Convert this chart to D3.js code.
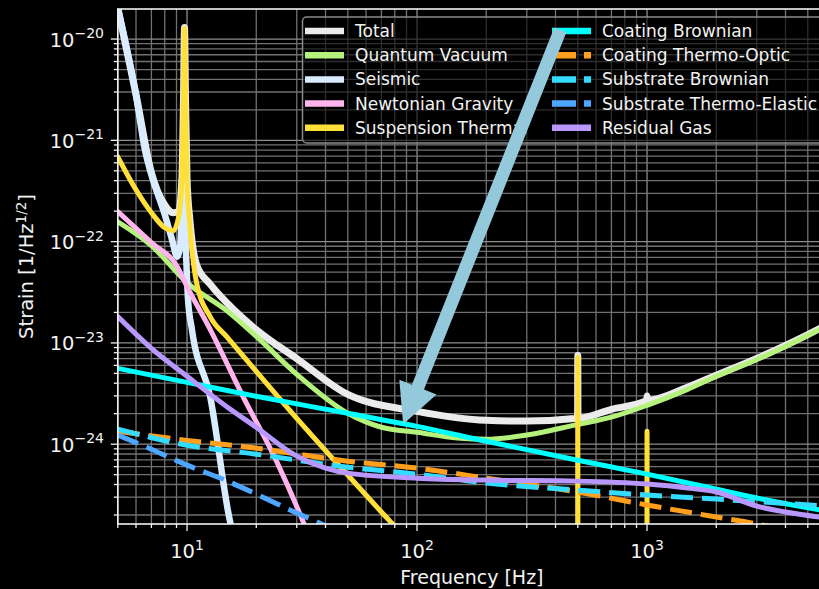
<!DOCTYPE html>
<html>
<head>
<meta charset="utf-8">
<script src="https://cdn.jsdelivr.net/npm/d3@7"></script>
<style>
  html, body { margin: 0; padding: 0; background: #000; }
  svg { display: block; font-family: "DejaVu Sans", sans-serif; }
</style>
</head>
<body>
<svg id="chart" width="819" height="589"></svg>
<script>
// noise budget curves, strain in 1/sqrt(Hz)
var totalFreq = [5, 6, 7, 8, 8.7, 9.2, 9.5, 9.65, 9.75, 9.85, 10, 10.3, 11, 12.6, 15, 20, 30, 50, 100, 200, 300, 499, 500, 501, 700, 998, 1000, 1002, 1500, 2000, 3000, 4000, 5000, 6000];
var totalStrain = [2.02e-20, 2.83e-21, 4.8e-22, 2.3e-22, 1.93e-22, 1.98e-22, 4.2e-22, 2.55e-21, 1.3e-20, 2.55e-21, 4.2e-22, 1.6e-22, 5.93e-23, 3.8e-23, 2.45e-23, 1.35e-23, 7.0e-24, 3.1e-24, 2.11e-24, 1.72e-24, 1.69e-24, 1.80e-24, 7.5e-24, 1.80e-24, 2.21e-24, 2.71e-24, 3.0e-24, 2.71e-24, 3.65e-24, 4.79e-24, 7.03e-24, 9.46e-24, 1.21e-23, 1.49e-23];

var quantumFreq = [5, 7, 10, 15, 20, 30, 50, 70, 100, 150, 200, 300, 500, 700, 1000, 1500, 2000, 3000, 4000, 5000, 6000];
var quantumStrain = [1.57e-22, 9.14e-23, 3.94e-23, 2.05e-23, 1.16e-23, 4.9e-24, 2.02e-24, 1.47e-24, 1.31e-24, 1.15e-24, 1.12e-24, 1.23e-24, 1.57e-24, 1.85e-24, 2.42e-24, 3.48e-24, 4.68e-24, 6.87e-24, 9.24e-24, 1.19e-23, 1.46e-23];

var seismicFreq = [5, 6, 6.56, 7, 8, 8.6, 9.05, 9.35, 9.55, 9.75, 10.1, 10.5, 12.6, 15.4, 17];
var seismicStrain = [2.02e-20, 2.81e-21, 8.05e-22, 4.57e-22, 1.85e-22, 1.05e-22, 7.11e-23, 9.33e-23, 2.77e-22, 1.65e-22, 2.69e-23, 1.36e-23, 2.97e-24, 1.71e-25, 8e-26];

var newtonianFreq = [5, 7, 9.05, 10, 12.6, 17.5, 24.6, 32, 40];
var newtonianStrain = [1.98e-22, 9.8e-23, 5.68e-23, 3.6e-23, 1.36e-23, 2.97e-24, 6.65e-25, 1.71e-25, 4.7e-26];

var suspensionFreq = [5, 6, 7, 8, 8.7, 9.2, 9.5, 9.65, 9.75, 9.85, 10, 10.3, 11, 12.6, 15, 20, 30, 50, 70, 90, 200, 499, 500, 501, 999, 1000, 1001, 6000];
var suspensionStrain = [6.87e-22, 3.25e-22, 1.93e-22, 1.37e-22, 1.28e-22, 1.76e-22, 4.08e-22, 2.51e-21, 1.28e-20, 2.51e-21, 4.08e-22, 1.37e-22, 3.94e-23, 1.82e-23, 1.13e-23, 5.24e-24, 1.80e-24, 4.95e-25, 2.14e-25, 1.16e-25, 1e-26, 1e-26, 7.2e-24, 1e-26, 1e-26, 1.34e-24, 1e-26, 1e-26];

var coatBrownFreq = [5, 10, 20, 50, 100, 200, 500, 1000, 2000, 3000, 6000];
var coatBrownStrain = [5.61e-24, 4.08e-24, 2.97e-24, 2.02e-24, 1.50e-24, 1.07e-24, 6.95e-25, 5.06e-25, 3.60e-25, 2.94e-25, 2.19e-25];

var coatTOFreq = [5, 10, 20, 50, 100, 200, 500, 1000, 2000, 3000, 6000];
var coatTOStrain = [1.34e-24, 1.09e-24, 9.14e-25, 6.80e-25, 5.81e-25, 4.62e-25, 3.37e-25, 2.51e-25, 1.91e-25, 1.63e-25, 1.16e-25];

var subBrownFreq = [5, 10, 20, 50, 100, 200, 500, 1000, 2000, 6000];
var subBrownStrain = [1.41e-24, 9.77e-25, 7.97e-25, 5.93e-25, 5.06e-25, 4.13e-25, 3.52e-25, 3.15e-25, 2.87e-25, 2.45e-25];

var subTEFreq = [5, 7, 10, 15, 20, 30, 40, 60];
var subTEStrain = [1.23e-24, 8.93e-25, 6.21e-25, 4.32e-25, 3.22e-25, 2.09e-25, 1.56e-25, 9e-26];

var gasFreq = [5, 7, 10, 15, 20, 30, 40, 50, 100, 200, 500, 1000, 1500, 2000, 3000, 4000, 6000];
var gasStrain = [1.82e-23, 8.83e-24, 4.68e-24, 2.32e-24, 1.47e-24, 7.62e-25, 5.81e-25, 5.18e-25, 4.62e-25, 4.42e-25, 4.32e-25, 4.04e-25, 3.69e-25, 3.37e-25, 2.45e-25, 2.14e-25, 1.87e-25];

var seriesNames = ['Total', 'Quantum Vacuum', 'Seismic', 'Newtonian Gravity', 'Suspension Thermal',
                   'Coating Brownian', 'Coating Thermo-Optic', 'Substrate Brownian', 'Substrate Thermo-Elastic', 'Residual Gas'];
var xTickValues = [10, 100, 1000];
var yTickValues = [1e-24, 1e-23, 1e-22, 1e-21, 1e-20];
var annotFrom = [420, 1.23e-20];
var annotTo = [87, 1.57e-24];

// styles
var seriesColors = ['#ebebeb', '#b4f27c', '#d9ebff', '#ffb4ee', '#ffe03a', '#00ffff', '#ff9f1c', '#33dcff', '#4da6ff', '#b898ff'];
var seriesWidths = [7, 5, 6.5, 5, 5, 5, 5, 5, 5, 5];
var seriesDashed = [false, false, false, false, false, false, true, true, true, false];

var series = [
    [totalFreq, totalStrain], [quantumFreq, quantumStrain], [seismicFreq, seismicStrain],
    [newtonianFreq, newtonianStrain], [suspensionFreq, suspensionStrain], [coatBrownFreq, coatBrownStrain],
    [coatTOFreq, coatTOStrain], [subBrownFreq, subBrownStrain], [subTEFreq, subTEStrain], [gasFreq, gasStrain]
].map(function (s, i) {
    return {
        name: seriesNames[i], color: seriesColors[i], width: seriesWidths[i], dashed: seriesDashed[i],
        points: s[0].map(function (f, j) { return [f, s[1][j]]; })
    };
});

var svg = d3.select('#chart');
var plotL = 117.8, plotR = 826, plotT = 9, plotB = 524;

var x = d3.scaleLog().domain([5, 6000]).range([plotL, plotR]);
var y = d3.scaleLog().domain([1.63e-25, 1.98e-20]).range([plotB, plotT]);

// minor + major tick positions
var xAll = [];
[1, 10, 100, 1000].forEach(function (d) {
    for (var k = 1; k < 10; k++) {
        var v = k * d;
        if (v >= 5 && v <= 6000) xAll.push(v);
    }
});
var yAll = [];
for (var e = -25; e <= -20; e++) {
    for (var k = 1; k < 10; k++) {
        var v = Number(k + 'e' + e);
        if (v >= 1.63e-25 && v <= 1.98e-20) yAll.push(v);
    }
}

svg.append('rect').attr('width', 819).attr('height', 589).attr('fill', '#000');

svg.append('defs').append('clipPath').attr('id', 'plotClip')
    .append('rect').attr('x', plotL).attr('y', plotT).attr('width', plotR - plotL).attr('height', plotB - plotT);

var grid = svg.append('g').attr('clip-path', 'url(#plotClip)');
grid.selectAll('.gx').data(xAll).enter().append('line')
    .attr('x1', function (d) { return x(d); }).attr('x2', function (d) { return x(d); })
    .attr('y1', plotT).attr('y2', plotB)
    .attr('stroke', function (d) { return xTickValues.indexOf(d) >= 0 ? '#8c8c8c' : '#717171'; })
    .attr('stroke-width', 1.3);
grid.selectAll('.gy').data(yAll).enter().append('line')
    .attr('y1', function (d) { return y(d); }).attr('y2', function (d) { return y(d); })
    .attr('x1', plotL).attr('x2', plotR)
    .attr('stroke', function (d) { return yTickValues.indexOf(d) >= 0 ? '#8c8c8c' : '#717171'; })
    .attr('stroke-width', 1.3);

var line = d3.line()
    .curve(d3.curveMonotoneX)
    .x(function (d) { return x(d[0]); })
    .y(function (d) { return y(d[1]); });

var curves = svg.append('g').attr('clip-path', 'url(#plotClip)');
curves.selectAll('path').data(series).enter().append('path')
    .attr('d', function (d) { return line(d.points); })
    .attr('fill', 'none')
    .attr('stroke', function (d) { return d.color; })
    .attr('stroke-width', function (d) { return d.width; })
    .attr('stroke-dasharray', function (d) { return d.dashed ? '22,9' : null; })
    .attr('stroke-linejoin', 'round')
    .attr('stroke-linecap', function (d) { return d.dashed ? 'butt' : 'round'; });

// spines
svg.append('rect').attr('x', plotL).attr('y', plotT).attr('width', plotR - plotL).attr('height', plotB - plotT)
    .attr('fill', 'none').attr('stroke', '#f2f2f2').attr('stroke-width', 1.6);

// ticks
var ticks = svg.append('g').attr('stroke', '#f2f2f2').attr('stroke-width', 1.3);
ticks.selectAll('.tx').data(xAll).enter().append('line')
    .attr('x1', function (d) { return x(d); }).attr('x2', function (d) { return x(d); })
    .attr('y1', plotB).attr('y2', function (d) { return plotB + (xTickValues.indexOf(d) >= 0 ? 7 : 4); });
ticks.selectAll('.ty').data(yAll).enter().append('line')
    .attr('y1', function (d) { return y(d); }).attr('y2', function (d) { return y(d); })
    .attr('x1', plotL).attr('x2', function (d) { return plotL - (yTickValues.indexOf(d) >= 0 ? 7 : 4); });

// tick labels (10^n)
var xl = svg.append('g').attr('fill', '#f2f2f2').attr('font-size', 19.5);
xTickValues.forEach(function (v) {
    var t = xl.append('text').attr('x', x(v)).attr('y', 558).attr('text-anchor', 'middle');
    t.append('tspan').text('10');
    t.append('tspan').attr('dy', -8.5).attr('font-size', 14).text(Math.round(Math.log10(v)));
});
var yl = svg.append('g').attr('fill', '#f2f2f2').attr('font-size', 19.5);
yTickValues.forEach(function (v) {
    var t = yl.append('text').attr('x', 104).attr('y', y(v) + 7.5).attr('text-anchor', 'end');
    t.append('tspan').text('10');
    t.append('tspan').attr('dy', -8.5).attr('font-size', 14).text('\u2212' + Math.abs(Math.round(Math.log10(v))));
});

// axis labels
svg.append('text').attr('x', (plotL + plotR) / 2).attr('y', 584).attr('text-anchor', 'middle')
    .attr('fill', '#f2f2f2').attr('font-size', 19).text('Frequency [Hz]');
var ylab = svg.append('text').attr('transform', 'translate(33,' + ((plotT + plotB) / 2) + ') rotate(-90)')
    .attr('text-anchor', 'middle').attr('fill', '#f2f2f2').attr('font-size', 19.5);
ylab.append('tspan').text('Strain [1/Hz');
ylab.append('tspan').attr('dy', -7.5).attr('font-size', 13.5).text('1/2');
ylab.append('tspan').attr('dy', 7.5).text(']');

// legend
var legend = svg.append('g');
legend.append('rect').attr('x', 302.5).attr('y', 17).attr('width', 540).attr('height', 126).attr('rx', 4)
    .attr('fill', '#000').attr('fill-opacity', 0.6).attr('stroke', '#8a8a8a').attr('stroke-width', 1.5);
series.forEach(function (s, i) {
    var col = i < 5 ? 0 : 1;
    var row = i % 5;
    var lx = col === 0 ? 305 : 552;
    var ly = 31 + row * 24.2;
    legend.append('line').attr('x1', lx).attr('x2', lx + 39).attr('y1', ly).attr('y2', ly)
        .attr('stroke', s.color).attr('stroke-width', 6.5)
        .attr('stroke-dasharray', s.dashed ? '24,8' : null);
    legend.append('text').attr('x', lx + 50).attr('y', ly + 6).attr('fill', '#f2f2f2')
        .attr('font-size', 17).text(s.name);
});

// annotation arrow, ends given in data coordinates
var ax0 = x(annotFrom[0]), ay0 = y(annotFrom[1]);
var ax1 = x(annotTo[0]), ay1 = y(annotTo[1]);
var len = Math.hypot(ax1 - ax0, ay1 - ay0);
var ux = (ax1 - ax0) / len, uy = (ay1 - ay0) / len;
var nx = -uy, ny = ux;
var shaftW = 6.5, headW = 20, headL = 40;
var bx = ax1 - ux * headL, by = ay1 - uy * headL;
var arrowPts = [
    [ax0 + nx * shaftW, ay0 + ny * shaftW],
    [bx + nx * shaftW, by + ny * shaftW],
    [bx + nx * headW, by + ny * headW],
    [ax1, ay1],
    [bx - nx * headW, by - ny * headW],
    [bx - nx * shaftW, by - ny * shaftW],
    [ax0 - nx * shaftW, ay0 - ny * shaftW]
];
svg.append('polygon')
    .attr('points', arrowPts.map(function (p) { return p.join(','); }).join(' '))
    .attr('fill', '#93c9da');
</script>
</body>
</html>
